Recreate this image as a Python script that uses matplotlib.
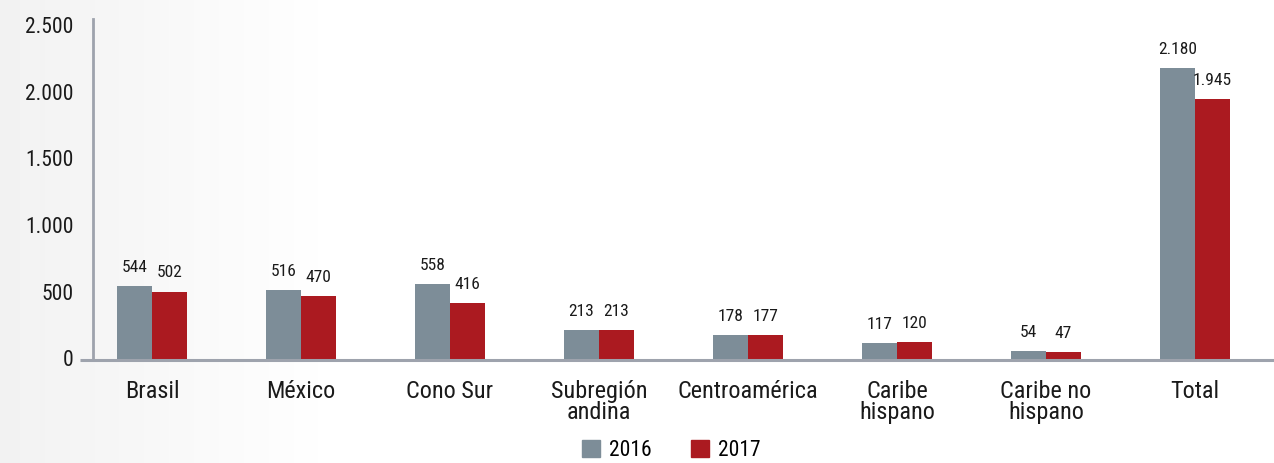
import numpy as np
import matplotlib
matplotlib.use("Agg")
import matplotlib.pyplot as plt
from matplotlib.patches import Patch
from matplotlib import font_manager

categories = ["Brasil", "México", "Cono Sur", "Subregión\nandina", "Centroamérica",
              "Caribe\nhispano", "Caribe no\nhispano", "Total"]
values_2016 = [544, 516, 558, 213, 178, 117, 54, 2180]
values_2017 = [502, 470, 416, 213, 177, 120, 47, 1945]
series_names = ["2016", "2017"]
y_ticks = [0, 500, 1000, 1500, 2000, 2500]

c16 = "#7d8d98"
c17 = "#ab1a20"
axis_col = "#9ea3ad"
txt = "#1a1a1a"

installed = {f.name for f in font_manager.fontManager.ttflist}
fam = [f for f in ['Roboto Condensed', 'Liberation Sans Narrow', 'Roboto'] if f in installed]
plt.rcParams['font.family'] = fam + ['DejaVu Sans']

fig = plt.figure(figsize=(12.74, 4.63), dpi=100)
# background gradient
bg = fig.add_axes([0, 0, 1, 1], zorder=-10)
grad = np.linspace(0, 1, 256)
vals = np.clip(grad * 4.0, 0, 1)
img = np.zeros((2, 256, 3))
for i in range(3):
    img[:, :, i] = 0.95 + (1 - 0.95) * vals
bg.imshow(img, aspect='auto', extent=[0, 1, 0, 1])
bg.axis('off')

ax = fig.add_axes([93 / 1274, 1 - 358.5 / 463, 1 - 93 / 1274, (358.5 - 19) / 463])
ax.patch.set_alpha(0)

x = np.arange(len(categories))
w = 0.235
b1 = ax.bar(x - w / 2, values_2016, w, color=c16, label=series_names[0], zorder=2)
b2 = ax.bar(x + w / 2, values_2017, w, color=c17, label=series_names[1], zorder=2)

def fmt(v):
    return f"{v:,}".replace(",", ".")

for bars, vals_ in ((b1, values_2016), (b2, values_2017)):
    for rect, v in zip(bars, vals_):
        ax.annotate(fmt(v), (rect.get_x() + rect.get_width() / 2, rect.get_height()),
                    xytext=(0, 8), textcoords="offset points", ha="center", va="bottom",
                    fontsize=12.5, color=txt)

ax.set_xlim(-0.396, 7.53)
ax.set_ylim(0, 2545)
ax.set_yticks(y_ticks)
ax.set_yticklabels([fmt(v) for v in y_ticks], fontsize=15.5, color=txt)
ax.set_xticks(x)
ax.set_xticklabels(categories, fontsize=17.5, color=txt, linespacing=0.87)
ax.tick_params(axis='y', length=0, pad=14)
ax.tick_params(axis='x', length=0, pad=15.5)

for s in ("top", "right", "bottom"):
    ax.spines[s].set_visible(False)
ax.spines["left"].set_color(axis_col)
ax.spines["left"].set_linewidth(2)
ax.plot([-0.011, 1], [-0.004, -0.004], transform=ax.transAxes, color=axis_col,
        lw=2.2, clip_on=False, zorder=3, solid_capstyle='butt')

handles = [Patch(color=c16, label=series_names[0]), Patch(color=c17, label=series_names[1])]
fig.legend(handles=handles, loc="center", bbox_to_anchor=(0.527, 12.5 / 463), ncol=2,
           frameon=False, fontsize=15.5, handlelength=0.84, handleheight=0.84,
           columnspacing=1.8, handletextpad=0.42)

fig.savefig("out.png", dpi=100)
